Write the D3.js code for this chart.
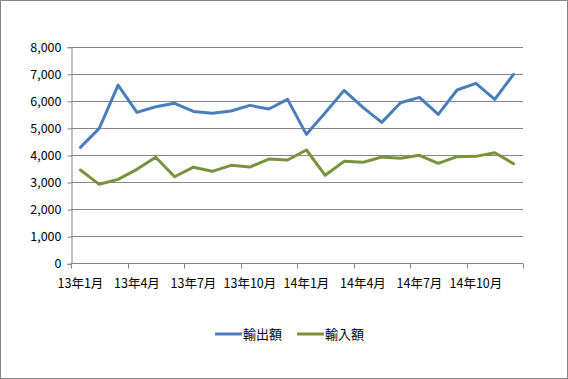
<!DOCTYPE html>
<html><head><meta charset="utf-8">
<script src="https://cdn.jsdelivr.net/npm/d3@7"></script>
<style>html,body{margin:0;padding:0;background:#fff;}svg{display:block;}</style>
</head><body>
<script>
const months = ["13年1月","13年2月","13年3月","13年4月","13年5月","13年6月","13年7月","13年8月","13年9月","13年10月","13年11月","13年12月",
"14年1月","14年2月","14年3月","14年4月","14年5月","14年6月","14年7月","14年8月","14年9月","14年10月","14年11月","14年12月"];
const exportValues = [4283,4985,6584,5576,5783,5908,5610,5538,5624,5833,5698,6055,4763,5561,6388,5760,5206,5931,6128,5500,6400,6646,6055,6979];
const importValues = [3445,2917,3101,3470,3914,3198,3550,3397,3619,3556,3852,3815,4184,3250,3766,3729,3926,3877,3988,3693,3938,3950,4085,3679];
const yTicks = [0,1000,2000,3000,4000,5000,6000,7000,8000];
const seriesNames = ["輸出額","輸入額"];
const colors = ["#4A7EBB","#77933C"];

const W=568,H=379;
const svg=d3.select("body").append("svg").attr("width",W).attr("height",H);
svg.append("rect").attr("x",0.5).attr("y",0.5).attr("width",W-1).attr("height",H-1).attr("fill","#fff").attr("stroke","#868686");
const L=71,R=523,T=46.7,B=263.3;
const font="'Noto Sans CJK JP', sans-serif";
const x=d3.scaleBand().domain(months).range([L,R]).paddingInner(0).paddingOuter(0);
const y=d3.scaleLinear().domain([0,8000]).range([B,T]);

// gridlines
svg.append("g").selectAll("line").data(yTicks.slice(1)).join("line")
 .attr("x1",L).attr("x2",R).attr("y1",d=>Math.round(y(d))+0.5).attr("y2",d=>Math.round(y(d))+0.5)
 .attr("stroke","#868686").attr("stroke-width",1);

// y axis
const yAxis=d3.axisLeft(y).tickValues(yTicks).tickFormat(d3.format(",")).tickSize(4).tickPadding(6);
const gy=svg.append("g").attr("transform",`translate(${L+0.5},0.5)`).call(yAxis);
gy.selectAll("path,line").attr("stroke","#868686");
gy.selectAll("text").attr("font-family",font).attr("font-size",12.5).attr("fill","#000");

// x axis
const gx=svg.append("g").attr("transform",`translate(0,${Math.round(B)+0.5})`);
gx.append("line").attr("x1",L).attr("x2",R).attr("stroke","#868686");
const tickIdx=d3.range(0,25,3);
gx.selectAll("line.t").data(tickIdx).join("line").attr("class","t")
 .attr("x1",i=>Math.round(L+i*x.bandwidth())+0.5).attr("x2",i=>Math.round(L+i*x.bandwidth())+0.5)
 .attr("y1",0).attr("y2",5).attr("stroke","#868686");
gx.selectAll("text").data(months.filter((m,i)=>i%3===0)).join("text")
 .attr("x",d=>x(d)+x.bandwidth()/2).attr("y",24).attr("text-anchor","middle")
 .attr("font-family",font).attr("font-size",12.5).attr("fill","#000").text(d=>d);

// lines
const line=d3.line().x((d,i)=>x(months[i])+x.bandwidth()/2).y(d=>y(d));
[exportValues,importValues].forEach((vals,k)=>{
 svg.append("path").datum(vals).attr("d",line).attr("fill","none")
  .attr("stroke",colors[k]).attr("stroke-width",3).attr("stroke-linejoin","round").attr("stroke-linecap","round");
});

// legend
const leg=[{x:215,name:seriesNames[0],c:colors[0]},{x:297,name:seriesNames[1],c:colors[1]}];
leg.forEach(l=>{
 svg.append("line").attr("x1",l.x).attr("x2",l.x+27).attr("y1",334).attr("y2",334)
  .attr("stroke",l.c).attr("stroke-width",3);
 svg.append("text").attr("x",l.x+28).attr("y",339).attr("font-family",font).attr("font-size",13)
  .attr("fill","#000").text(l.name);
});
</script>
</body></html>
